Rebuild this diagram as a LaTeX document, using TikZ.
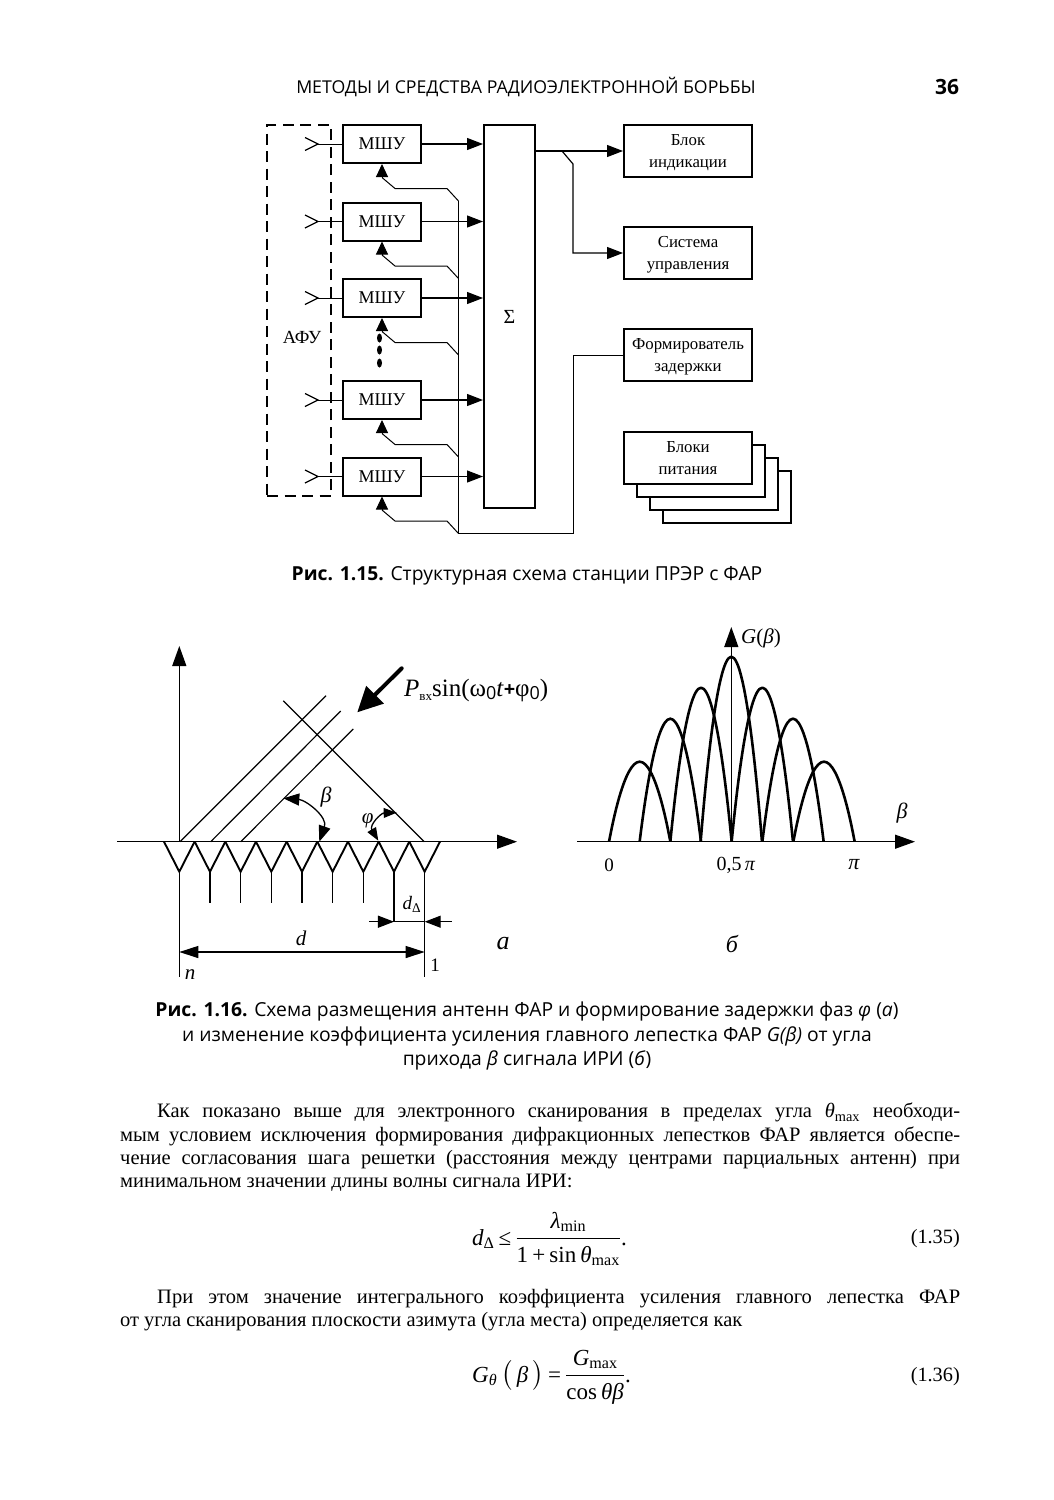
\documentclass[tikz,border=0pt]{standalone}
\usepackage{amsmath}
\usepackage{fontspec}
\setmainfont{Liberation Serif}
\newfontfamily\capfont{Open Sans}
\usetikzlibrary{arrows.meta, shapes.geometric}
\newcommand{\vi}[1]{\text{\itshape #1}}
\tikzset{
    amp/.style={rectangle, draw=black, line width=2pt, fill=white, minimum width=78, minimum height=38, font=\fontsize{18}{20}\selectfont},
    sumbox/.style={rectangle, draw=black, line width=2pt, minimum width=51, minimum height=383, font=\fontsize{20}{20}\selectfont},
    unit/.style={rectangle, draw=black, line width=2pt, fill=white, minimum width=128, minimum height=52, align=center, inner sep=0pt, text depth=0pt, font=\fontsize{16.8}{22}\selectfont},
    afubox/.style={rectangle, draw=black, line width=2pt, dash pattern=on 11pt off 6.5pt, minimum width=64, minimum height=371},
    dotmark/.style={ellipse, fill=black, inner sep=0pt, minimum width=5, minimum height=9},
    arrow/.style={-{Triangle[length=16pt,width=12pt]}, line width=1.2pt},
    axis/.style={-{Triangle[length=20pt,width=14pt]}, line width=1.3pt},
    feedback/.style={-{Triangle[length=13pt,width=12pt]}, line width=1pt},
    wire/.style={line width=1pt},
    front/.style={line width=1.2pt},
    dimline/.style={{Triangle[length=19pt,width=12pt]}-{Triangle[length=19pt,width=12pt]}, line width=1.2pt},
    anglearc/.style={{Triangle[length=#1,width=0.75*#1]}-{Triangle[length=#1,width=0.75*#1]}, line width=1.3pt},
    lobe/.style={line width=2.6pt, line join=round},
    capt/.style={font=\capfont\fontsize{19.3}{24.5}\selectfont, align=center},
    lbl/.style={inner sep=0pt, font=\fontsize{19}{22}\selectfont},
    eqn/.style={lbl, anchor=west, font=\fontsize{23}{26}\selectfont},
    bodytext/.style={anchor=north west, inner sep=0pt, text width=840, align=justify, font=\fontsize{20.5}{23.2}\selectfont},
}
\begin{document}
\begin{tikzpicture}[x=1pt, y=-1pt]
    \useasboundingbox[fill=white] (0,0) rectangle (1053,1500);

    % Running head
    \node[lbl, font=\capfont\fontsize{17.7}{22}\selectfont] (running) at (526,87) {МЕТОДЫ И СРЕДСТВА РАДИОЭЛЕКТРОННОЙ БОРЬБЫ};
    \node[lbl, font=\capfont\bfseries\fontsize{21}{22}\selectfont] (pagenum) at (947,87) {36};

    % Receiver channels
    \node[afubox] (afu) at (299,310.5) {};
    \node[lbl, font=\fontsize{18.5}{20}\selectfont] (afutext) at (302,337) {АФУ};
    \node[sumbox] (sum) at (509.5,316.5) {Σ};
    \foreach \i/\y in {1/144, 2/221.5, 3/298, 4/400, 5/476.5} {
        \node[amp] (mshu\i) at (382,\y) {МШУ};
        \coordinate (ant\i) at (318,\y);
        \coordinate (bus\i) at (458.5,\y+57);
        \draw[wire, line width=1.3pt] (ant\i) ++(-13,-6.5) -- (ant\i) -- ++(-13,6.5);
        \draw[wire] (ant\i) -- (mshu\i.west);
        \draw[arrow] (mshu\i.east) -- (mshu\i.east -| sum.west);
        \draw[wire] (bus\i) -- ++(-11.5,-12.5) -- ++(-52,0) coordinate (knee\i) -- ++(-13,-11) coordinate (rise\i);
        \draw[feedback] (rise\i) -- (mshu\i.south);
    }
    \node[dotmark] (dota) at (379.5,338) {};
    \node[dotmark] (dotb) at (379.5,350) {};
    \node[dotmark] (dotc) at (379.5,363) {};

    % Output units
    \node[unit] (indic) at (688,151) {Блок\\индикации};
    \node[unit] (control) at (688,253) {Система\\управления};
    \node[unit] (delay) at (688,355) {Формирователь\\задержки};
    \foreach \k in {3,2,1} {
        \node[unit] (power\k) at (688+13*\k,458+13*\k) {};
    }
    \node[unit] (power0) at (688,458) {Блоки\\питания};

    \coordinate (split) at (562,151);
    \draw[arrow] (sum.east |- indic.west) -- (indic.west);
    \draw[arrow] (split) -- ++(11,13) |- (control.west);
    \draw[wire] (bus1) -- (bus5) -| (573,355) -- (delay.west);

    % Antenna array
    \coordinate (origin) at (179.3,841.7);
    \coordinate (xend) at (517,841.7);
    \coordinate (xstart) at (117,841.7);
    \coordinate (ytop) at (179.3,646);
    \draw[axis] (xstart) -- (xend);
    \draw[axis] (origin) -- (ytop);
    \foreach \i/\len in {1/105.3, 2/31.3, 3/31.3, 4/31.3, 5/31.3, 6/31.3, 7/31.3, 8/50, 9/105.3} {
        \coordinate (el\i) at (148.63+30.67*\i,871.7);
        \draw[line width=1.9pt, line join=miter] (el\i) ++(-15.3,-30) -- (el\i) -- ++(15.3,-30);
        \draw[line width=1.2pt] (el\i) -- ++(0,\len) coordinate (foot\i);
    }

    % Wave fronts
    \coordinate (fronta) at (180,841.7);
    \coordinate (frontb) at (210.7,841.7);
    \coordinate (frontc) at (240.7,841.7);
    \coordinate (crossa) at (283.3,700.7);
    \coordinate (crossb) at (424.3,841.7);
    \draw[front] (fronta) -- (326,695.7);
    \draw[front] (frontb) -- (340.7,711);
    \draw[front] (frontc) -- (353.3,729);
    \draw[front] (crossa) -- (crossb);
    \coordinate (rayin) at (401.7,668.3);
    \coordinate (raytip) at (357.3,712.3);
    \draw[-{Triangle[length=25pt,width=24pt]}, line width=4pt, line cap=round] (rayin) -- (raytip);
    \node[lbl, anchor=west, font=\fontsize{25}{28}\selectfont] (signal) at (404,690) {\textit{P}\raisebox{-4pt}{\fontsize{13}{13}\selectfont вх}sin(ω{\capfont\fontsize{18}{18}\selectfont\raisebox{-3pt}{0}}\textit{t}{\capfont\bfseries\fontsize{20}{20}\selectfont +}φ{\capfont\fontsize{18}{18}\selectfont\raisebox{-3pt}{0}})};

    % Angles
    \coordinate (betaa) at (283.3,798.3);
    \coordinate (betab) at (319.3,841.7);
    \draw[anglearc=16pt] (betaa) .. controls (306,800) and (328,817) .. (betab);
    \node[lbl, font=\itshape\fontsize{22}{24}\selectfont] (betatext) at (326,797) {β};
    \coordinate (phia) at (378.3,840.7);
    \coordinate (phib) at (396.7,812.7);
    \draw[anglearc=13pt] (phia) .. controls (369,825) and (381,813) .. (phib);
    \node[lbl, font=\itshape\fontsize{21}{24}\selectfont] (phitext) at (367.7,820.7) {φ};

    % Array dimensions
    \coordinate (da) at (179.3,952);
    \coordinate (db) at (424.7,952);
    \draw[dimline] (da) -- (db);
    \node[lbl, font=\itshape\fontsize{21}{24}\selectfont] (dtext) at (301,938) {d};
    \coordinate (stepl) at (369,921.7);
    \coordinate (stepr) at (451.7,921.7);
    \coordinate (stepm) at (424.7,921.7);
    \draw[arrow] (stepl) -- (foot8);
    \draw[arrow] (stepr) -- (stepm);
    \draw[line width=1.2pt] (foot8) -- (stepm);
    \node[lbl] (steptext) at (412,904) {$\vi{d}_{\text{Δ}}$};
    \node[lbl] (onetext) at (435,965) {1};
    \node[lbl, font=\itshape\fontsize{21}{22}\selectfont] (ntext) at (190,975) {n};
    \node[lbl, font=\itshape\fontsize{26}{28}\selectfont] (parta) at (503,944) {а};

    % Gain pattern
    \coordinate (gorigin) at (731.3,841.7);
    \coordinate (gtop) at (731.3,627);
    \coordinate (gleft) at (577,841.7);
    \coordinate (gright) at (915,841.7);
    \foreach \c/\py in {639.7/761.7, 670.3/718.7, 701/687.7, 731.3/656.7, 762.3/687.7, 793/718.7, 824/761.7} {
        \coordinate (lobetop) at (\c,\py);
        \draw[lobe] (\c-30.67,841.7) parabola bend (lobetop) (\c+30.67,841.7);
    }
    \draw[axis] (gleft) -- (gright);
    \draw[axis, line width=1.2pt] (gorigin) -- (gtop);
    \node[lbl, anchor=west, font=\fontsize{21}{24}\selectfont] (gtext) at (741,638) {\textit{G}(\textit{β})};
    \node[lbl, font=\itshape\fontsize{22}{24}\selectfont] (btext) at (902,813) {β};
    \node[lbl] (tick0) at (609,865) {0};
    \node[lbl, font=\fontsize{20}{24}\selectfont] (tickh) at (736,865) {0,5\,\textit{π}};
    \node[lbl, font=\itshape\fontsize{22}{24}\selectfont] (tickp) at (854,865) {π};
    \node[lbl, font=\itshape\fontsize{24}{28}\selectfont] (partb) at (732,944) {б};

    % Captions
    \node[capt] (capa) at (527,576) {{\bfseries Рис. 1.15.} Структурная схема станции ПРЭР с ФАР};
    \node[capt] (capb) at (527,1036) {{\bfseries Рис. 1.16.} Схема размещения антенн ФАР и формирование задержки фаз \textit{φ} (\textit{а})\\и изменение коэффициента усиления главного лепестка ФАР \textit{G(β)} от угла\\прихода \textit{β} сигнала ИРИ (\textit{б})};

    % Running text and formulas
    \node[bodytext] (para) at (120,1103) {\hspace*{37pt}Как показано выше для электронного сканирования в пределах угла \textit{θ}\textsubscript{max} необходи-\linebreak мым условием исключения формирования дифракционных лепестков ФАР является обеспе-\linebreak чение согласования шага решетки (расстояния между центрами парциальных антенн) при\linebreak минимальном значении длины волны сигнала ИРИ:\par};
    \node[eqn] (eqa) at (472,1239) {$\vi{d}_{\text{Δ}}\,\text{≤}\,\dfrac{\vi{λ}_{\text{min}}}{\text{1}\,\text{+}\,\text{sin}\,\vi{θ}_{\text{max}}}$.};
    \node[lbl, anchor=east, font=\fontsize{20.3}{23}\selectfont] (numa) at (960,1239) {(1.35)};
    \node[bodytext] (parb) at (120,1289) {\hspace*{37pt}При этом значение интегрального коэффициента усиления главного лепестка ФАР\linebreak от угла сканирования плоскости азимута (угла места) определяется как\par};
    \node[eqn] (eqb) at (472,1377) {$\vi{G}_{\vi{θ}}\,\bigl(\,\vi{β}\,\bigr)\,\text{=}\,\dfrac{\vi{G}_{\text{max}}}{\text{cos}\,\vi{θβ}}$.};
    \node[lbl, anchor=east, font=\fontsize{20.3}{23}\selectfont] (numb) at (960,1377) {(1.36)};
\end{tikzpicture}
\end{document}
